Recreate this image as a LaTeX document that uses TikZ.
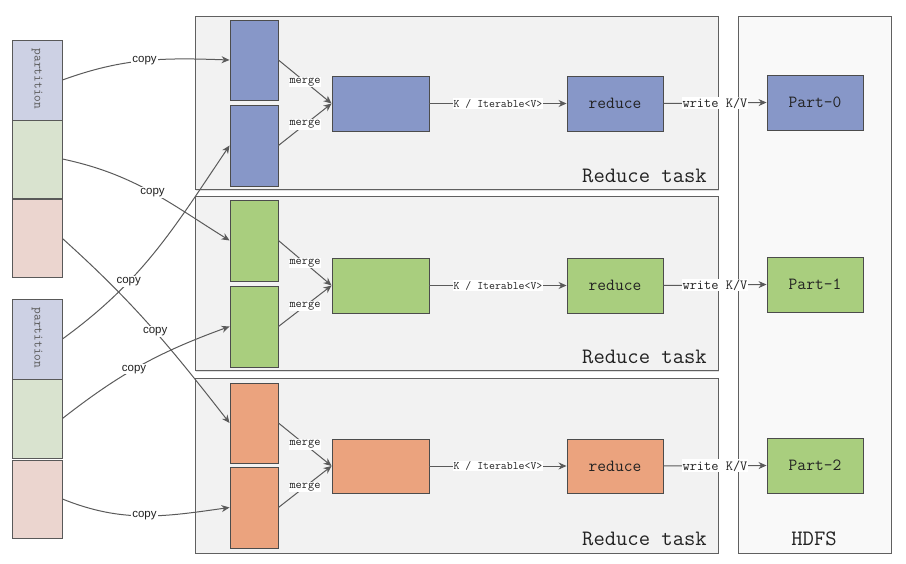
\documentclass[tikz,border=0pt]{standalone}
\usepackage{fontspec}
\setsansfont{Liberation Sans}
\usetikzlibrary{arrows.meta,shadows}
\definecolor{rblue}{HTML}{8797C8}
\definecolor{rgreen}{HTML}{A9CE7E}
\definecolor{rorange}{HTML}{EBA37E}
\definecolor{pblue}{HTML}{CDD1E4}
\definecolor{pgreen}{HTML}{D9E3CF}
\definecolor{pred}{HTML}{EBD5CF}
\definecolor{edgec}{HTML}{5A5A5A}
\definecolor{taskfill}{HTML}{F2F2F2}
\definecolor{txt}{HTML}{222222}
\tikzset{
  taskbox/.style={draw=gray!75!black, line width=1pt, fill=taskfill, inner sep=0pt,
    drop shadow={shadow xshift=1.2pt, shadow yshift=-1.2pt, opacity=0.25}},
  procbox/.style={draw=gray!60!black, line width=0.9pt, inner sep=0pt,
    drop shadow={shadow xshift=1.2pt, shadow yshift=-1.2pt, opacity=0.3},
    font=\ttfamily\fontsize{17}{18}\selectfont, text=txt},
  partseg/.style={draw=gray!70!black, line width=0.9pt, inner sep=0pt, minimum width=50pt},
  arr/.style={draw=edgec, line width=1pt, -{Stealth[length=8pt,width=7pt]}},
  copylab/.style={fill=white, inner sep=1pt, font=\sffamily\fontsize{11.5}{12}\selectfont, text=txt},
  mergelab/.style={fill=white, inner sep=1pt, font=\ttfamily\fontsize{12}{12}\selectfont, text=txt},
  kvlab/.style={fill=white, inner sep=1pt, font=\ttfamily\fontsize{11.5}{12}\selectfont, text=txt},
  wlab/.style={fill=white, inner sep=1pt, font=\ttfamily\fontsize{14}{14}\selectfont, text=txt},
  biglab/.style={font=\ttfamily\fontsize{22}{22}\selectfont, text=txt, inner sep=0pt},
}
\begin{document}
\begin{tikzpicture}[x=1pt,y=1pt]
\useasboundingbox (0,0) rectangle (906,-564);
% task boxes
\node[taskbox, minimum width=523pt, minimum height=173pt] (t1) at (456.5,-103.5) {};
\node[taskbox, minimum width=523pt, minimum height=174pt] (t2) at (456.5,-284) {};
\node[taskbox, minimum width=523pt, minimum height=174pt] (t3) at (456.5,-466) {};
\node[taskbox, fill=gray!5, minimum width=153pt, minimum height=536pt] (hdfs) at (814.5,-285) {};
\node[biglab, anchor=base east] (tl1) at (707,-183) {Reduce task};
\node[biglab, anchor=base east] (tl2) at (707,-364) {Reduce task};
\node[biglab, anchor=base east] (tl3) at (707,-545) {Reduce task};
\node[biglab, anchor=base] (hl) at (814,-545) {HDFS};
% map partitions
\node[partseg, fill=pblue, minimum height=80pt] (a1) at (37,-80) {};
\node[partseg, fill=pgreen, minimum height=78pt] (a2) at (37,-159) {};
\node[partseg, fill=pred, minimum height=78pt] (a3) at (37,-238.5) {};
\node[partseg, fill=pblue, minimum height=80pt] (b1) at (37,-339) {};
\node[partseg, fill=pgreen, minimum height=79pt] (b2) at (37,-418.5) {};
\node[partseg, fill=pred, minimum height=78pt] (b3) at (37,-499) {};
\node[rotate=-90, font=\ttfamily\fontsize{13}{13}\selectfont, text=gray!70!black] (pa) at (37,-79) {partition};
\node[rotate=-90, font=\ttfamily\fontsize{13}{13}\selectfont, text=gray!70!black] (pb) at (37,-338) {partition};
% reduce task 1
\node[procbox, fill=rblue, minimum width=48pt, minimum height=80pt] (r1a) at (254,-60) {};
\node[procbox, fill=rblue, minimum width=48pt, minimum height=81pt] (r1b) at (254,-145.5) {};
\node[procbox, fill=rblue, minimum width=97pt, minimum height=55pt] (m1) at (380.5,-103.5) {};
\node[procbox, fill=rblue, minimum width=96pt, minimum height=55pt] (d1) at (615,-103.5) {reduce};
\node[procbox, fill=rblue, minimum width=96pt, minimum height=55pt] (p0) at (815,-102.5) {Part-0};
% reduce task 2
\node[procbox, fill=rgreen, minimum width=48pt, minimum height=81pt] (r2a) at (254,-240.5) {};
\node[procbox, fill=rgreen, minimum width=48pt, minimum height=81pt] (r2b) at (254,-326.5) {};
\node[procbox, fill=rgreen, minimum width=97pt, minimum height=55pt] (m2) at (380.5,-285.5) {};
\node[procbox, fill=rgreen, minimum width=96pt, minimum height=55pt] (d2) at (615,-285.5) {reduce};
\node[procbox, fill=rgreen, minimum width=96pt, minimum height=55pt] (p1) at (815,-284.5) {Part-1};
% reduce task 3
\node[procbox, fill=rorange, minimum width=48pt, minimum height=80pt] (r3a) at (254,-423) {};
\node[procbox, fill=rorange, minimum width=48pt, minimum height=81pt] (r3b) at (254,-507.5) {};
\node[procbox, fill=rorange, minimum width=97pt, minimum height=54pt] (m3) at (380.5,-466) {};
\node[procbox, fill=rorange, minimum width=96pt, minimum height=54pt] (d3) at (615,-466) {reduce};
\node[procbox, fill=rgreen, minimum width=96pt, minimum height=55pt] (p2) at (815,-465.5) {Part-2};
% merges and flows
\foreach \i in {1,2,3}{
  \draw[arr] (r\i a.east) -- node[mergelab]{merge} (m\i.west);
  \draw[arr] (r\i b.east) -- node[mergelab]{merge} (m\i.west);
  \draw[arr] (m\i.east) -- node[kvlab]{K / Iterable<V>} (d\i.west);
}
\draw[arr] (d1.east) -- node[wlab]{write K/V} (p0.west);
\draw[arr] (d2.east) -- node[wlab]{write K/V} (p1.west);
\draw[arr] (d3.east) -- node[wlab]{write K/V} (p2.west);
% copy arrows
\draw[arr] (a1.east) to[out=20,in=178] node[copylab]{copy} (r1a.west);
\draw[arr] (a2.east) to[out=-12,in=148] node[copylab, pos=0.52]{copy} (r2a.west);
\draw[arr] (a3.east) to[out=-42,in=128] node[copylab, pos=0.53]{copy} (r3a.west);
\draw[arr] (b1.east) to[out=36,in=236] node[copylab, pos=0.33]{copy} (r1b.west);
\draw[arr] (b2.east) to[out=38,in=200] node[copylab, pos=0.45]{copy} (r2b.west);
\draw[arr] (b3.east) to[out=-22,in=188] node[copylab]{copy} (r3b.west);
\end{tikzpicture}
\end{document}
